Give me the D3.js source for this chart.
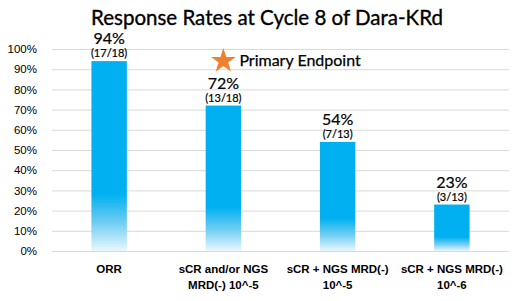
<!DOCTYPE html>
<html>
<head>
<meta charset="utf-8">
<script src="https://cdn.jsdelivr.net/npm/d3@7"></script>
<style>
  body { margin: 0; background: #fff; }
  svg { display: block; }
</style>
</head>
<body>
<div class="chart"></div>
<script>
// chart values
const categories = ["ORR", "sCR and/or NGS MRD(-) 10^-5", "sCR + NGS MRD(-) 10^-5", "sCR + NGS MRD(-) 10^-6"];
const categoryLines = [["ORR"], ["sCR and/or NGS", "MRD(-) 10^-5"], ["sCR + NGS MRD(-)", "10^-5"], ["sCR + NGS MRD(-)", "10^-6"]];
const rates = [94, 72, 54, 23];
const fractions = ["(17/18)", "(13/18)", "(7/13)", "(3/13)"];
const yTicks = [0, 10, 20, 30, 40, 50, 60, 70, 80, 90, 100];

const width = 520;
const height = 301;
const plotLeft = 52, plotRight = 509, plotTop = 49, plotBottom = 251;

let svg = d3.select(".chart").append("svg")
    .attr("width", width)
    .attr("height", height);

// bar fill: solid blue fading out toward the bottom
let grad = svg.append("defs").append("linearGradient")
    .attr("id", "barFade")
    .attr("x1", 0).attr("y1", 0).attr("x2", 0).attr("y2", 1);
grad.append("stop").attr("offset", 0).attr("stop-color", "#00b0f0");
grad.append("stop").attr("offset", 0.7).attr("stop-color", "#00b0f0");
grad.append("stop").attr("offset", 0.85).attr("stop-color", "#6fcdf3");
grad.append("stop").attr("offset", 1).attr("stop-color", "#eaf7fd");

let xScale = d3.scaleBand()
    .domain(categories)
    .range([plotLeft, plotRight])
    .paddingInner(0.69)
    .paddingOuter(0.345);
let yScale = d3.scaleLinear()
    .domain([0, 100])
    .range([plotBottom, plotTop]);

// gridlines + y labels
let yAxis = d3.axisLeft(yScale)
    .tickValues(yTicks)
    .tickSize(-(plotRight - plotLeft))
    .tickPadding(15)
    .tickFormat(d => d + "%");
let yg = svg.append("g")
    .attr("transform", "translate(" + plotLeft + ",0)")
    .call(yAxis);
yg.select(".domain").remove();
yg.selectAll(".tick line").attr("stroke", "#d9d9d9").attr("stroke-width", 1);
yg.selectAll(".tick text")
    .attr("fill", "#000")
    .style("font-family", "'Liberation Sans', Arial, sans-serif")
    .style("font-size", "11.5px");

// title
svg.append("text")
    .attr("x", 267)
    .attr("y", 25)
    .attr("text-anchor", "middle")
    .style("font-family", "Lato, sans-serif")
    .style("font-size", "20.5px")
    .attr("stroke", "#000")
    .attr("stroke-width", 0.35)
    .text("Response Rates at Cycle 8 of Dara-KRd");

// bars
svg.selectAll("rect.bar")
    .data(rates)
    .enter()
    .append("rect")
    .attr("class", "bar")
    .attr("x", (d, i) => xScale(categories[i]))
    .attr("y", d => yScale(d))
    .attr("width", xScale.bandwidth())
    .attr("height", d => yScale(0) - yScale(d))
    .attr("fill", "url(#barFade)");

// value labels
svg.selectAll("text.pct")
    .data(rates)
    .enter()
    .append("text")
    .attr("class", "pct")
    .attr("x", (d, i) => xScale(categories[i]) + xScale.bandwidth() / 2)
    .attr("y", d => yScale(d) - 17)
    .attr("text-anchor", "middle")
    .style("font-family", "Lato, sans-serif")
    .style("font-size", "16px")
    .attr("stroke", "#000")
    .attr("stroke-width", 0.2)
    .text(d => d + "%");

svg.selectAll("text.frac")
    .data(fractions)
    .enter()
    .append("text")
    .attr("class", "frac")
    .attr("x", (d, i) => xScale(categories[i]) + xScale.bandwidth() / 2)
    .attr("y", (d, i) => yScale(rates[i]) - 4)
    .attr("text-anchor", "middle")
    .style("font-family", "Lato, sans-serif")
    .style("font-size", "11px")
    .attr("stroke", "#000")
    .attr("stroke-width", 0.2)
    .text(d => d);

// category labels
categoryLines.forEach((lines, i) => {
    let t = svg.append("text")
        .attr("text-anchor", "middle")
        .style("font-family", "'Liberation Sans', Arial, sans-serif")
        .style("font-weight", "bold")
        .style("font-size", "11.5px");
    lines.forEach((ln, j) => {
        t.append("tspan")
            .attr("x", xScale(categories[i]) + xScale.bandwidth() / 2)
            .attr("y", 273 + j * 16)
            .text(ln);
    });
});

// primary endpoint marker (star over second bar)
let starX = xScale(categories[1]) + xScale.bandwidth() / 2;
svg.append("path")
    .attr("d", d3.symbol().type(d3.symbolStar).size(190)())
    .attr("transform", "translate(" + starX + ",61)")
    .attr("fill", "#f07f2e");
svg.append("text")
    .attr("x", starX + 16)
    .attr("y", 66)
    .style("font-family", "Lato, sans-serif")
    .style("font-size", "16px")
    .attr("stroke", "#000")
    .attr("stroke-width", 0.25)
    .text("Primary Endpoint");
</script>
</body>
</html>
